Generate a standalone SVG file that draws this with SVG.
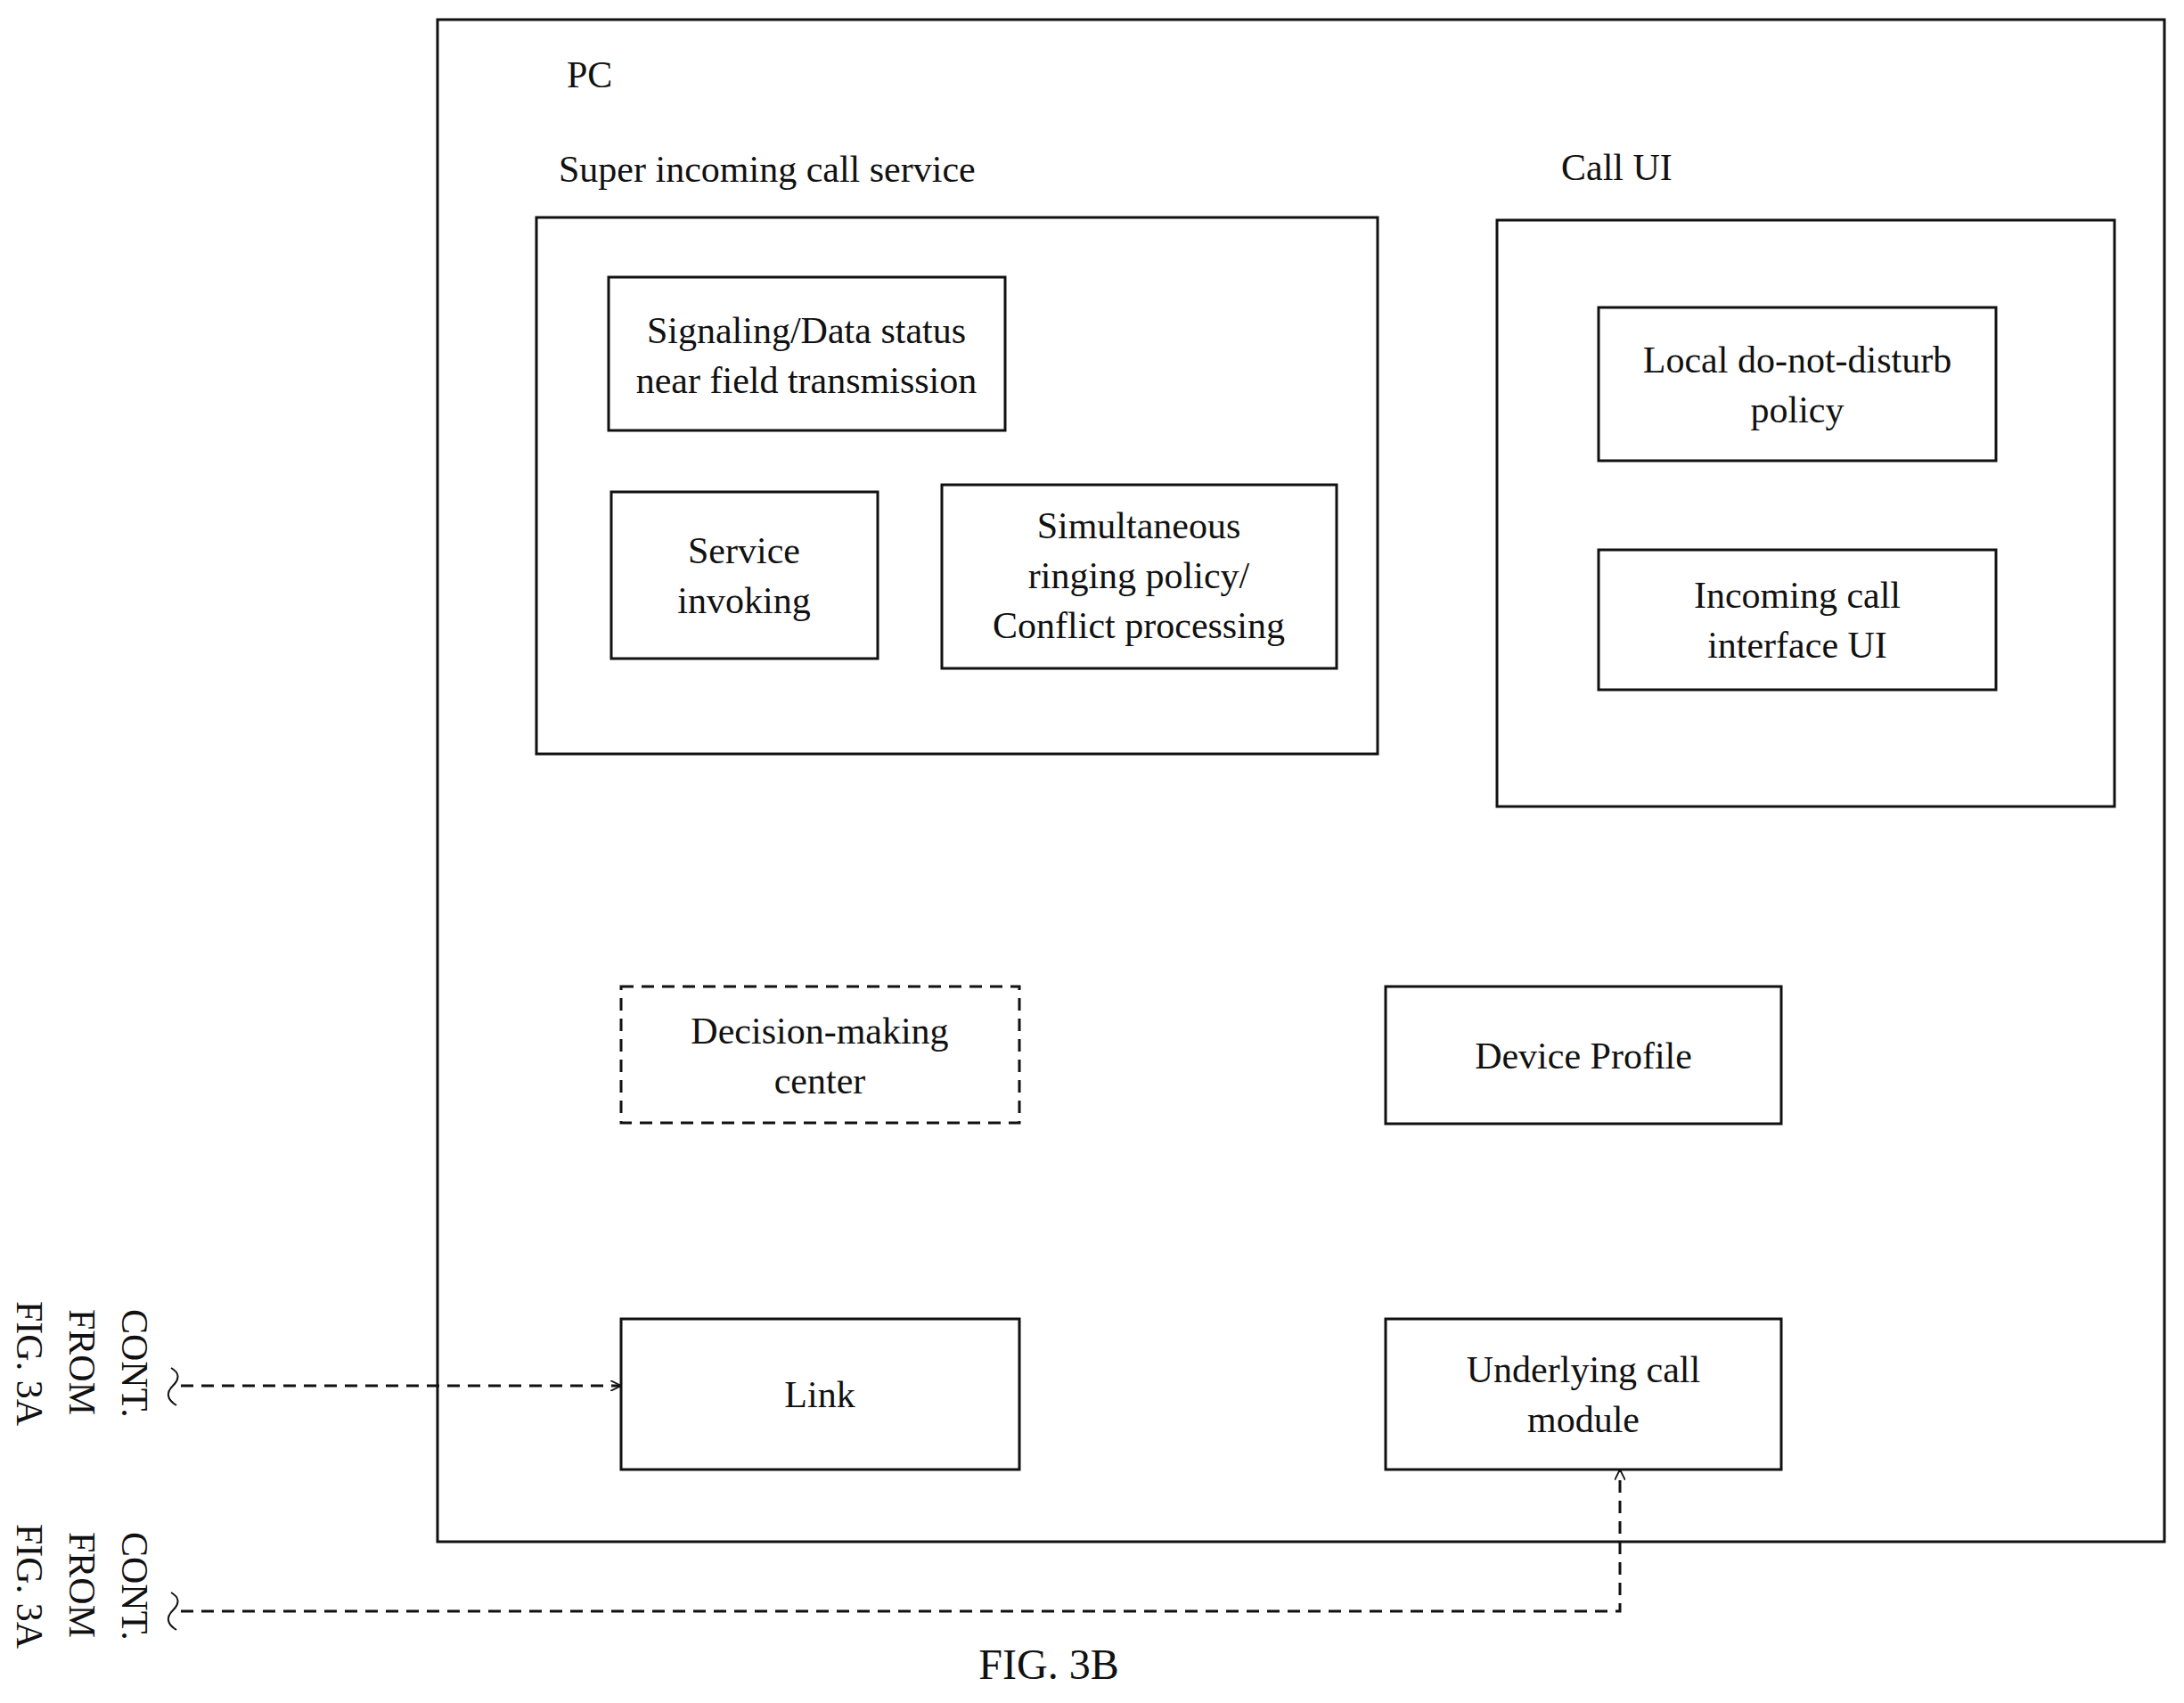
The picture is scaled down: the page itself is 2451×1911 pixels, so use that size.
<svg xmlns="http://www.w3.org/2000/svg" width="2451" height="1911" viewBox="0 0 2451 1911">
<style>
text{font-family:"Liberation Serif","Times New Roman",serif;font-size:42px;fill:#111}
.c{text-anchor:middle}
.b{fill:none;stroke:#111;stroke-width:3}
.d{fill:none;stroke:#111;stroke-width:3;stroke-dasharray:14,9}
</style>
<defs>
<marker id="ah" viewBox="0 0 10 10" refX="10" refY="5" markerWidth="12" markerHeight="12" markerUnits="userSpaceOnUse" orient="auto">
<path d="M0,0 L10,5 L0,10" fill="none" stroke="#111" stroke-width="1.5"/>
</marker>
</defs>
<rect width="2451" height="1911" fill="#fff"/>
<g id="pc"><rect class="b" x="491" y="22" width="1938" height="1708"/><text x="636" y="98">PC</text></g>
<g id="super"><text x="627" y="204">Super incoming call service</text><rect class="b" x="602" y="244" width="944" height="602"/></g>
<g id="signaling"><rect class="b" x="683" y="311" width="445" height="172"/><text class="c" x="905" y="385">Signaling/Data status</text><text class="c" x="905" y="441">near field transmission</text></g>
<g id="invoking"><rect class="b" x="686" y="552" width="299" height="187"/><text class="c" x="835" y="632">Service</text><text class="c" x="835" y="688">invoking</text></g>
<g id="simul"><rect class="b" x="1057" y="544" width="443" height="206"/><text class="c" x="1278" y="604">Simultaneous</text><text class="c" x="1278" y="660">ringing policy/</text><text class="c" x="1278" y="716">Conflict processing</text></g>
<g id="callui"><text x="1752" y="202">Call UI</text><rect class="b" x="1680" y="247" width="693" height="658"/></g>
<g id="dnd"><rect class="b" x="1794" y="345" width="446" height="172"/><text class="c" x="2017" y="418">Local do-not-disturb</text><text class="c" x="2017" y="474">policy</text></g>
<g id="incoming"><rect class="b" x="1794" y="617" width="446" height="157"/><text class="c" x="2017" y="682">Incoming call</text><text class="c" x="2017" y="738">interface UI</text></g>
<g id="decision"><rect class="d" x="697" y="1107" width="447" height="153"/><text class="c" x="920" y="1171">Decision-making</text><text class="c" x="920" y="1227">center</text></g>
<g id="profile"><rect class="b" x="1555" y="1107" width="444" height="154"/><text class="c" x="1777" y="1199">Device Profile</text></g>
<g id="link"><rect class="b" x="697" y="1480" width="447" height="169"/><text class="c" x="920" y="1579">Link</text></g>
<g id="underlying"><rect class="b" x="1555" y="1480" width="444" height="169"/><text class="c" x="1777" y="1551">Underlying call</text><text class="c" x="1777" y="1607">module</text></g>
<g id="cont1">
<text transform="translate(137,1469) rotate(90)">CONT.</text>
<text transform="translate(78,1469) rotate(90)">FROM</text>
<text transform="translate(19,1460) rotate(90)">FIG. 3A</text>
</g>
<g id="cont2">
<text transform="translate(137,1719) rotate(90)">CONT.</text>
<text transform="translate(78,1719) rotate(90)">FROM</text>
<text transform="translate(19,1710) rotate(90)">FIG. 3A</text>
</g>
<g id="connectors">
<path d="M192,1535 q14,8 2,20 q-12,12 4,22" fill="none" stroke="#111" stroke-width="2"/>
<path d="M192,1787 q14,8 2,20 q-12,12 4,22" fill="none" stroke="#111" stroke-width="2"/>
<path class="d" d="M203,1555 H697" marker-end="url(#ah)"/>
<path class="d" d="M203,1808 H1818 V1649" marker-end="url(#ah)"/>
</g>
<text class="c" x="1177" y="1884" style="font-size:48px">FIG. 3B</text>
</svg>
